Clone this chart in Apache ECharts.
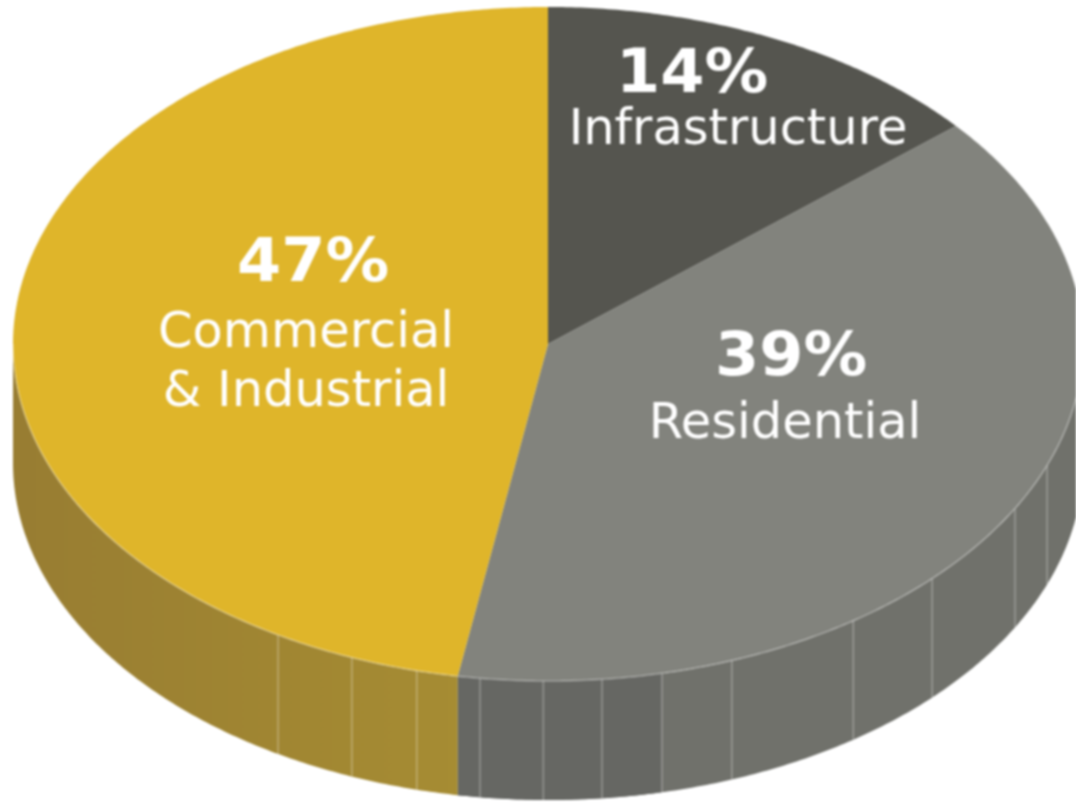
<!DOCTYPE html>
<html>
<head>
<meta charset="utf-8">
<style>
html,body{margin:0;padding:0;background:#fff;overflow:hidden}
#c{width:1076px;height:803px;filter:blur(1px)}
</style>
<script src="https://cdn.jsdelivr.net/npm/echarts@6/dist/echarts.min.js"></script>
</head>
<body>
<div id="c"></div>
<script>
// Data
const categories = ['Infrastructure', 'Residential', 'Commercial\n& Industrial'];
const values = [13.8, 38.9, 47.3];
// Facet seams on the visible wall, degrees clockwise from 12 o'clock
const seamAngles = [111.1, 119.2, 134.1, 145.2, 159.9, 167.7, 174.2, 180.5, 187.3, 194.2, 201.5, 210.3];

// Style and layout
const topColors = ['#55554f', '#82837d', '#dfb52a'];
const labelAt = [[692, 76, 738, 131], [791, 359, 785, 425], [313, 265, 306, 334]];
const lineGap = 59;
const CX = 548, CY = 344, RX = 535, RY = 337, DEPTH = 119;
const FONT = '"DejaVu Sans", Verdana, sans-serif';
const goldWall = new echarts.graphic.LinearGradient(13, 0, 456, 0, [
  { offset: 0, color: '#987d32' }, { offset: 1, color: '#a68c33' }
], true);
const wallColors = ['#4a4a45', '#70716b', goldWall];

const total = values.reduce((a, b) => a + b, 0);
const spans = [];
values.reduce((acc, v) => { spans.push([acc / total * 360, (acc + v) / total * 360]); return acc + v; }, 0);

const pt = (deg, dy) => {
  const t = deg * Math.PI / 180;
  return [CX + RX * Math.sin(t), CY - RY * Math.cos(t) + (dy || 0)];
};
const arc = (a, b, dy) => {
  const out = [], n = Math.max(2, Math.ceil(Math.abs(b - a) * 2));
  for (let i = 0; i <= n; i++) out.push(pt(a + (b - a) * i / n, dy));
  return out;
};

function renderWall(params) {
  const i = params.dataIndex;
  const a = Math.max(spans[i][0], 90), b = Math.min(spans[i][1], 270);
  if (b <= a) return { type: 'group', children: [] };
  const children = [{
    type: 'polygon',
    shape: { points: arc(a, b, 0).concat(arc(b, a, DEPTH)) },
    style: { fill: wallColors[i] }
  }];
  // Slightly darker band of the Residential wall near the front
  if (i === 1) {
    const fa = seamAngles[5];
    children.push({
      type: 'polygon',
      shape: { points: arc(fa, b, 0).concat(arc(b, fa, DEPTH)) },
      style: { fill: '#666763' }
    });
  }
  seamAngles.filter(s => s > a && s < b).forEach(s => {
    const p = pt(s, 0), q = pt(s, DEPTH);
    children.push({
      type: 'line',
      shape: { x1: p[0], y1: p[1], x2: q[0], y2: q[1] },
      style: { stroke: 'rgba(255,255,255,0.3)', lineWidth: 1.5 }
    });
  });
  return { type: 'group', children };
}

function renderTop(params) {
  const i = params.dataIndex;
  const [a, b] = spans[i];
  const at = labelAt[i];
  const lines = categories[i].split('\n');
  const children = [{
    type: 'polygon',
    shape: { points: [[CX, CY]].concat(arc(a, b, 0)) },
    style: { fill: topColors[i] }
  }];
  const fa = Math.max(a, 90), fb = Math.min(b, 270);
  if (fb > fa) {
    children.push({
      type: 'polyline',
      shape: { points: arc(fa, fb, 0) },
      style: { fill: 'none', stroke: 'rgba(255,255,255,0.3)', lineWidth: 1.5 }
    });
  }
  children.push({
    type: 'text', x: at[0], y: at[1], scaleX: 1.06,
    style: { text: Math.round(values[i]) + '%', fill: '#fff', font: 'bold 60px ' + FONT, align: 'center', verticalAlign: 'middle' }
  });
  lines.forEach((line, k) => {
    children.push({
      type: 'text', x: at[2], y: at[3] + k * lineGap,
      style: { text: line, fill: '#fff', font: '49.5px ' + FONT, align: 'center', verticalAlign: 'middle' }
    });
  });
  return { type: 'group', children };
}

const chart = echarts.init(document.getElementById('c'), null, { renderer: 'canvas' });
chart.setOption({
  animation: false,
  backgroundColor: '#fff',
  tooltip: { show: false },
  series: [
    { type: 'custom', coordinateSystem: 'none', silent: true, z: 1, renderItem: renderWall, data: values },
    { type: 'custom', coordinateSystem: 'none', silent: true, z: 2, renderItem: renderTop, data: values }
  ]
});
</script>
</body>
</html>
